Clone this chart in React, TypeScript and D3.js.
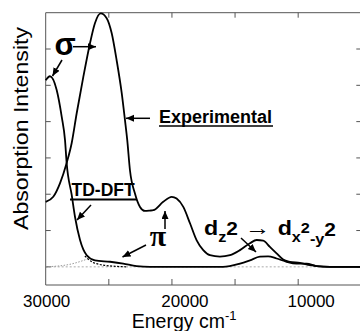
import React from "react";
import * as d3 from "d3";

// Experimental spectrum (energy cm-1, intensity in tick units)
const expEnergy = [30000, 29400, 28870, 28340, 27940, 27545, 27020, 26490, 26100, 25645, 25170, 24775, 24380, 23980, 23720, 23540, 23325, 22930, 22530, 22140, 21740, 21480, 20690, 20020, 19630, 19100, 18570, 18040, 17520, 16990, 16200, 15400, 14610, 13820, 13290, 12770, 12240, 11710, 11190, 10660, 9865, 9070, 8540, 7490, 5000];
const expIntensity = [1.79, 1.93, 2.3, 2.86, 3.41, 4.23, 5.23, 6.16, 6.71, 6.98, 6.85, 6.44, 5.69, 4.79, 4.04, 3.49, 2.66, 2.02, 1.65, 1.54, 1.55, 1.56, 1.79, 1.93, 1.88, 1.65, 1.2, 0.73, 0.46, 0.32, 0.28, 0.32, 0.46, 0.65, 0.74, 0.72, 0.55, 0.37, 0.2, 0.14, 0.11, 0.05, 0.02, 0, 0];

// TD-DFT spectrum
const tdEnergy = [30000, 29660, 29130, 28730, 28470, 28340, 27940, 27680, 27280, 26750, 26100, 24900, 23860, 22800, 21740, 15960, 14610, 13820, 13030, 12380, 11710, 10920, 10130, 9330, 8540, 7490, 5000];
const tdIntensity = [5.14, 5.25, 4.87, 4.13, 3.49, 2.86, 1.98, 1.38, 0.74, 0.32, 0.18, 0.14, 0.09, 0.02, 0, 0, 0.09, 0.18, 0.28, 0.29, 0.23, 0.14, 0.09, 0.09, 0.02, 0, 0];

// dotted component curves
const compEnergy = [26900, 26650, 26300, 25900, 25300, 24500, 23500];
const compIntensity = [0.3, 0.22, 0.13, 0.08, 0.04, 0.015, 0];
const comp2Energy = [30000, 28080, 26500];
const comp2Intensity = [0, 0.07, 0.24];

const xTicks = [30000, 25000, 20000, 15000, 10000];
const xTickLabels = ["30000", "", "20000", "", "10000"];
const xLabelShift = [1, 0, 13, 0, 13];
const yTicks = [0, 1, 2, 3, 4, 5, 6];

const W = 360;
const H = 331;

export default function App() {
  const x = d3.scaleLinear().domain([30000, 5000]).range([45.7, 361.3]);
  const y = d3.scaleLinear().domain([-0.5, 7]).range([285, 12.7]);
  const left = x(30000);
  const right = x(5000);
  const top = y(7);
  const bottom = y(-0.5);

  const line = (es: number[], is: number[]) =>
    d3
      .line<number>()
      .x((_, i) => x(es[i]))
      .y((_, i) => y(is[i]))
      .curve(d3.curveMonotoneX)(es) || "";

  const sans = "'Liberation Sans', Arial, sans-serif";
  const frame = "#555";

  return (
    <svg width={W} height={H} style={{ position: "absolute", left: 0, top: 0, background: "#fff" }}>
      <defs>
        <marker id="ah" markerUnits="userSpaceOnUse" markerWidth="9" markerHeight="8" refX="8" refY="3.5" orient="auto">
          <path d="M0,0 L8,3.5 L0,7 Z" fill="#000" />
        </marker>
      </defs>
      {/* baseline dotted */}
      <line x1={left} x2={right} y1={y(0)} y2={y(0)} stroke="#aaa" strokeWidth={1} strokeDasharray="2,2" />
      {/* frame */}
      <line x1={left} x2={left} y1={top} y2={bottom} stroke={frame} strokeWidth={1} />
      <line x1={left} x2={right} y1={top} y2={top} stroke={frame} strokeWidth={1} />
      <line x1={left} x2={right} y1={bottom} y2={bottom} stroke={frame} strokeWidth={1} />
      <line x1={right} x2={right} y1={top} y2={bottom} stroke={frame} strokeWidth={1} />
      {xTicks.slice(1).map((t) => (
        <g key={"xt" + t}>
          <line x1={x(t)} x2={x(t)} y1={bottom} y2={bottom - 6} stroke={frame} />
          <line x1={x(t)} x2={x(t)} y1={top} y2={top + 5} stroke={frame} />
        </g>
      ))}
      {yTicks.map((t) => (
        <g key={"yt" + t}>
          <line x1={left} x2={left + 5} y1={y(t)} y2={y(t)} stroke={frame} />
          <line x1={right - 5} x2={right} y1={y(t)} y2={y(t)} stroke={frame} />
        </g>
      ))}
      {xTicks.map((t, i) =>
        xTickLabels[i] ? (
          <text key={"xl" + t} x={x(t) + xLabelShift[i]} y={306.5} fontSize={17} fontFamily={sans} textAnchor="middle">
            {xTickLabels[i]}
          </text>
        ) : null
      )}
      <text x={131.7} y={327.5} fontSize={19.5} fontFamily={sans}>
        Energy cm
        <tspan fontSize={13} dy={-8}>-1</tspan>
      </text>
      <text
        transform="translate(27.5,128.5) rotate(-90)"
        fontSize={20}
        fontFamily={sans}
        textAnchor="middle"
        textLength={203}
        lengthAdjust="spacingAndGlyphs"
      >
        Absorption Intensity
      </text>

      {/* curves */}
      <path d={line(comp2Energy, comp2Intensity)} fill="none" stroke="#999" strokeWidth={1} strokeDasharray="1.5,1.5" />
      <path d={line(compEnergy, compIntensity)} fill="none" stroke="#000" strokeWidth={1.2} strokeDasharray="2,1.5" />
      <path d={line(tdEnergy, tdIntensity)} fill="none" stroke="#000" strokeWidth={1.8} />
      <path d={line(expEnergy, expIntensity)} fill="none" stroke="#000" strokeWidth={1.8} />

      {/* annotations */}
      <text x={65} y={55} fontSize={31} fontWeight="bold" fontFamily={sans} textAnchor="middle">σ</text>
      <line x1={73} y1={46.7} x2={96} y2={46.7} stroke="#000" strokeWidth={1.5} markerEnd="url(#ah)" />
      <line x1={62} y1={60} x2={52.5} y2={76} stroke="#000" strokeWidth={1.5} markerEnd="url(#ah)" />

      <line x1={150} y1={118.3} x2={126} y2={118.3} stroke="#000" strokeWidth={1.5} markerEnd="url(#ah)" />
      <text x={159} y={123} fontSize={18} fontWeight="bold" fontFamily={sans}>Experimental</text>
      <line x1={159} x2={273} y1={126} y2={126} stroke="#000" strokeWidth={1.5} />

      <text x={71.5} y={196} fontSize={17.5} fontWeight="bold" fontFamily={sans}>TD-DFT</text>
      <line x1={70} x2={137} y1={199.5} y2={199.5} stroke="#000" strokeWidth={1.8} />
      <line x1={91} y1={205} x2={77} y2={220} stroke="#000" strokeWidth={1.5} markerEnd="url(#ah)" />

      <text x={158} y={246} fontSize={30} fontWeight="bold" fontFamily="'Liberation Serif', 'Times New Roman', serif" textAnchor="middle">π</text>
      <line x1={165} y1={229} x2={165} y2={211} stroke="#000" strokeWidth={1.5} markerEnd="url(#ah)" />
      <line x1={146} y1={245} x2={122.5} y2={257} stroke="#000" strokeWidth={1.5} markerEnd="url(#ah)" />

      <text x={204} y={235} fontFamily={sans} fontWeight="bold" fontSize={20} textLength={132} lengthAdjust="spacingAndGlyphs">
        <tspan>d</tspan>
        <tspan fontSize={14} y={242}>z</tspan>
        <tspan fontSize={18} y={235}>2</tspan>
        <tspan fontWeight="normal" fontSize={22} y={235}> → </tspan>
        <tspan y={235}>d</tspan>
        <tspan fontSize={14} y={242}>x</tspan>
        <tspan fontSize={14} y={233}>2</tspan>
        <tspan fontSize={14} y={244}>-y</tspan>
        <tspan fontSize={18} y={236}>2</tspan>
      </text>
      <line x1={241} y1={238} x2={256} y2={252} stroke="#000" strokeWidth={1.5} markerEnd="url(#ah)" />
    </svg>
  );
}
